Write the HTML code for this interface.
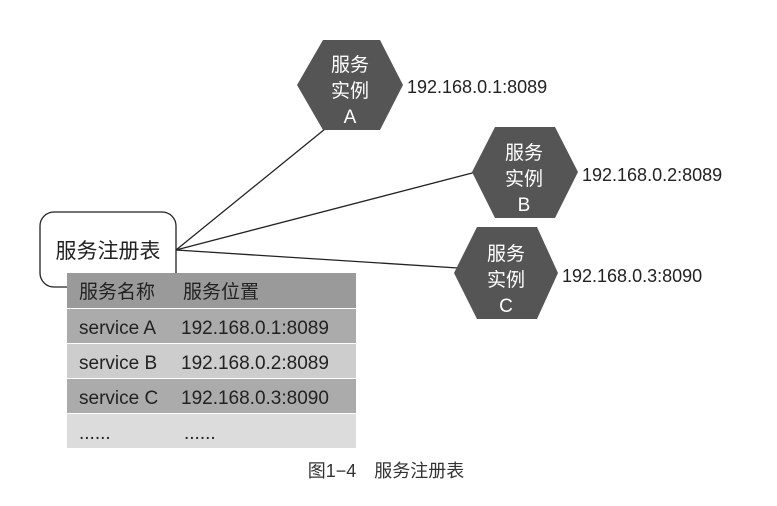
<!DOCTYPE html>
<html><head><meta charset="utf-8"><style>
body{margin:0;background:#fff;}
svg{display:block;}
text{font-family:"Liberation Sans","Noto Sans CJK SC",sans-serif;}
</style></head><body>
<svg width="777" height="506" viewBox="0 0 777 506">
<rect width="777" height="506" fill="#fff"/>
<g stroke="#222" stroke-width="1.3">
<line x1="176" y1="250" x2="325" y2="129"/>
<line x1="176" y1="250" x2="476" y2="172"/>
<line x1="176" y1="250" x2="458" y2="268"/>
</g>
<rect x="40" y="212" width="136" height="75" rx="14" fill="#fff" stroke="#222" stroke-width="1.3"/>
<text x="108" y="258" font-size="21" text-anchor="middle" fill="#222">服务注册表</text>
<rect x="67" y="273" width="289" height="35" fill="#9a9a9a"/>
<rect x="67" y="309" width="289" height="34" fill="#ababab"/>
<rect x="67" y="344" width="289" height="34" fill="#cdcdcd"/>
<rect x="67" y="379" width="289" height="34" fill="#ababab"/>
<rect x="67" y="414" width="289" height="34" fill="#dcdcdc"/>
<g font-size="19" fill="#222">
<text x="79" y="298">服务名称</text><text x="183" y="298">服务位置</text>
<text x="79" y="334">service A</text><text x="181" y="334">192.168.0.1:8089</text>
<text x="79" y="369">service B</text><text x="181" y="369">192.168.0.2:8089</text>
<text x="79" y="404">service C</text><text x="181" y="404">192.168.0.3:8090</text>
<text x="79" y="439">......</text><text x="184" y="439">......</text>
</g>
<g fill="#555">
<polygon points="323,40 380,40 403,85 380,130 323,130 297,85"/>
<polygon points="495,127 555,127 578,172 555,218 495,218 472,172"/>
<polygon points="477,227 537,227 558,273 537,319 477,319 454,273"/>
</g>
<g font-size="19" fill="#fff" text-anchor="middle">
<text x="350" y="71">服务</text><text x="350" y="97">实例</text><text x="350" y="123">A</text>
<text x="524" y="159">服务</text><text x="524" y="185">实例</text><text x="524" y="211">B</text>
<text x="506" y="260">服务</text><text x="506" y="286">实例</text><text x="506" y="312">C</text>
</g>
<g font-size="18" fill="#222">
<text x="407" y="93">192.168.0.1:8089</text>
<text x="582" y="181">192.168.0.2:8089</text>
<text x="562" y="282">192.168.0.3:8090</text>
</g>
<text x="386" y="477" font-size="18" text-anchor="middle" fill="#333">图1−4　服务注册表</text>
</svg>
</body></html>
